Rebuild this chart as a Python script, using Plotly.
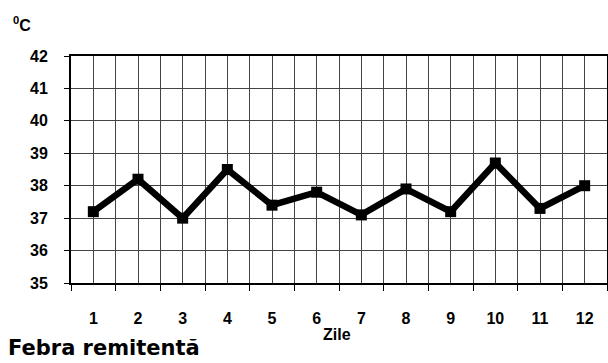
import plotly.graph_objects as go

days = list(range(1, 13))
day_labels = [str(d) for d in days]
temps = [37.2, 38.2, 37.0, 38.5, 37.4, 37.8, 37.1, 37.9, 37.2, 38.7, 37.3, 38.0]
y_ticks = [35, 36, 37, 38, 39, 40, 41, 42]
boundaries = [d - 0.5 for d in days] + [12.5]

FONT = "Liberation Sans, Arial, sans-serif"

fig = go.Figure()
fig.add_trace(go.Scatter(
    x=days, y=temps, mode="lines+markers",
    line=dict(color="black", width=6.5),
    marker=dict(symbol="square", size=11, color="black"),
    showlegend=False, hoverinfo="skip",
))

L, R, T, B = 71, 1, 56, 80
W, H = 608, 363
pw, ph = W - L - R, H - T - B

def px(x):
    return (x - L) / pw

def py(y):
    return (H - B - y) / ph

fig.update_layout(
    width=W, height=H,
    margin=dict(l=L, r=R, t=T, b=B, autoexpand=False),
    paper_bgcolor="white", plot_bgcolor="white",
    font=dict(family=FONT, color="black"),
    xaxis=dict(
        range=[0.5, 12.5], tickvals=days, ticktext=day_labels,
        ticks="", showgrid=True, gridcolor="#444", gridwidth=1,
        tickfont=dict(size=16, family=FONT, weight="bold"),
        ticklabelstandoff=20, automargin=False,
        showline=True, linecolor="black", linewidth=2, mirror=True,
        zeroline=False,
        minor=dict(tickvals=boundaries, ticks="outside", ticklen=6,
                   tickcolor="black", tickwidth=1,
                   showgrid=True, gridcolor="#444", gridwidth=1),
    ),
    yaxis=dict(
        range=[35, 42], tickvals=y_ticks, ticks="outside", ticklen=5,
        tickcolor="black", showgrid=True, gridcolor="#444", gridwidth=1,
        tickfont=dict(size=16, family=FONT, weight="bold"),
        ticklabelstandoff=13, automargin=False,
        showline=True, linecolor="black", linewidth=2, mirror=True,
        zeroline=False,
    ),
    annotations=[
        dict(text="<b><sup>0</sup>C</b>", x=px(11), y=py(24), xref="paper", yref="paper",
             xanchor="left", yanchor="middle", showarrow=False,
             font=dict(size=16, family=FONT)),
        dict(text="<b>Zile</b>", x=px(337), y=py(334), xref="paper", yref="paper",
             xanchor="center", yanchor="middle", showarrow=False,
             font=dict(size=16, family=FONT)),
        dict(text="<b>Febra remitentă</b>", x=px(6), y=py(348), xref="paper", yref="paper",
             xanchor="left", yanchor="middle", showarrow=False,
             font=dict(size=21, family="DejaVu Sans, sans-serif")),
    ],
)

fig.write_html("out.html", config={"displayModeBar": False},
               post_script="document.body.style.margin='0';document.body.style.overflow='hidden';")
